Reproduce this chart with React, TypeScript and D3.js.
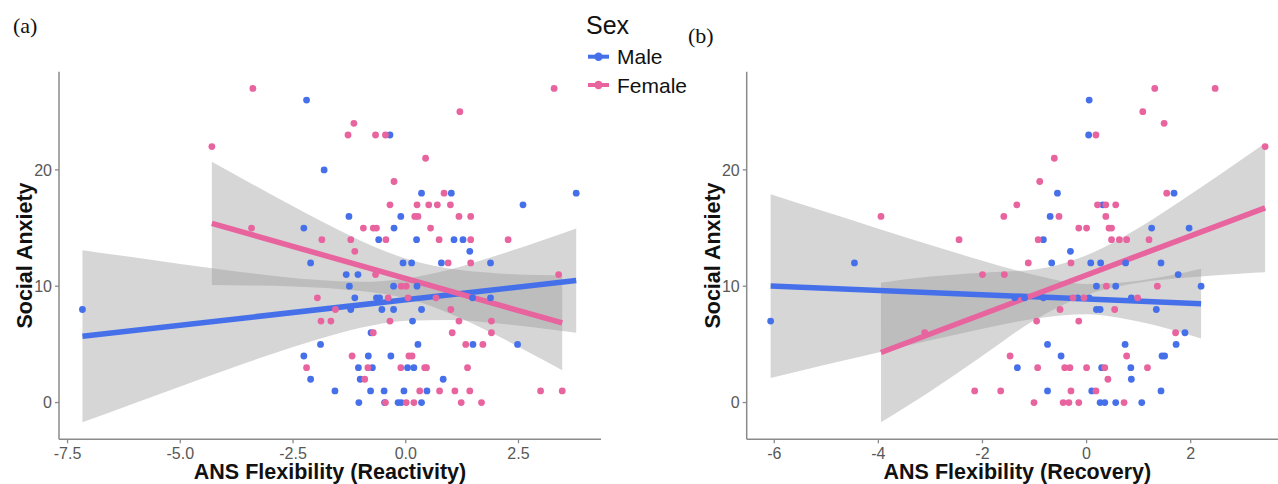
import * as React from "react";
import * as d3 from "d3";

// colours for the two groups (ggplot manual scale)
const SEX = ["Male", "Female"];
const SEX_COLOR = ["#4570ea", "#e8649e"];

const yTicks = [0, 10, 20];
const reactTicks = [-7.5, -5.0, -2.5, 0.0, 2.5];
const recovTicks = [-6, -4, -2, 0, 2];

// ---- panel (a) ANS Flexibility (Reactivity) ----
const maleReact: [number, number][] = [
  [-7.17, 8], [-2.2, 26], [-1.81, 20], [-1.26, 16], [-2.26, 15], [-0.6, 14], [-2.11, 12],
  [-1.32, 11], [-1.06, 11], [-1.25, 10], [-1.13, 9], [-0.65, 9], [-1.22, 8], [-0.77, 6],
  [-1.89, 5], [-2.26, 4], [-0.83, 4], [-1.05, 3], [-0.74, 3], [-2.11, 2], [-1.01, 2],
  [-1.57, 1], [-0.78, 1], [-1.04, 0], [-0.35, 23], [3.78, 18], [0.35, 18], [1.01, 18],
  [2.6, 17], [-0.11, 16], [-0.26, 15], [0.24, 14], [1.07, 14], [1.27, 14], [1.42, 13],
  [-0.06, 12], [0.13, 12], [0.79, 12], [1.88, 12], [-0.27, 10], [0.25, 10], [-0.58, 9],
  [1.48, 9], [1.88, 9], [-0.53, 8], [-0.27, 8], [0.35, 8], [0.15, 7], [0.27, 5], [1.49, 5],
  [2.48, 5], [-0.33, 4], [0.04, 3], [0.18, 3], [0.83, 2], [-0.48, 1], [-0.04, 1], [0.47, 1],
  [-0.47, 0], [-0.17, 0], [-0.1, 0], [0.35, 0],
];
const femaleReact: [number, number][] = [
  [-3.39, 27], [3.29, 27], [1.2, 25], [-1.15, 24], [-1.28, 23], [-0.67, 23], [-0.45, 23],
  [-4.3, 22], [0.44, 21], [-0.26, 19], [0.85, 18], [-0.35, 17], [0.25, 17], [0.51, 17],
  [0.7, 17], [0.99, 17], [0.2, 16], [0.27, 16], [1.18, 16], [1.44, 16], [-3.42, 15],
  [-0.94, 15], [-0.72, 15], [-0.65, 15], [0.55, 15], [-1.86, 14], [-1.22, 14], [-0.44, 14],
  [0.74, 14], [1.44, 14], [2.27, 14], [-1.13, 13], [0.94, 12], [1.44, 12], [-0.67, 11],
  [3.39, 11], [-0.1, 10], [0.01, 10], [-1.96, 9], [-0.39, 9], [0.05, 9], [0.67, 9],
  [-1.56, 8], [1.0, 8], [-1.88, 7], [-1.66, 7], [-0.35, 7], [1.18, 7], [1.9, 7], [-0.72, 6],
  [1.03, 6], [1.9, 6], [1.33, 5], [1.71, 5], [-1.19, 4], [0.07, 4], [0.14, 4], [-2.2, 3],
  [-0.84, 3], [-0.11, 3], [0.42, 3], [0.46, 3], [1.37, 3], [-0.91, 2], [0.31, 1], [0.75, 1],
  [1.09, 1], [1.42, 1], [2.99, 1], [3.47, 1], [-0.45, 0], [0.01, 0], [0.18, 0], [1.23, 0],
  [1.68, 0],
];
// fitted lines + 95% bands
const maleReactFit: [number, number][] = [[-7.17, 5.7], [3.78, 10.49]];
const maleReactBandX = [-7.17, -6, -5, -4, -3, -2, -1, 0, 1, 2, 3, 3.78];
const maleReactLo = [-1.7, -0.04, 1.38, 2.78, 4.13, 5.37, 6.42, 7.03, 7.1, 6.82, 6.39, 6.01];
const maleReactHi = [13.1, 12.46, 11.92, 11.4, 10.93, 10.55, 10.38, 10.65, 11.46, 12.62, 13.91, 14.97];
const femaleReactFit: [number, number][] = [[-4.3, 15.4], [3.47, 6.84]];
const femaleReactBandX = [-4.3, -3.5, -2.5, -1.5, -0.5, 0.2, 1, 2, 3, 3.47];
const femaleReactLo = [10.1, 10.06, 9.97, 9.77, 9.35, 8.74, 7.62, 5.8, 3.76, 2.77];
const femaleReactHi = [20.7, 18.98, 16.87, 14.85, 13.07, 12.14, 11.5, 11.12, 10.96, 10.91];

// ---- panel (b) ANS Flexibility (Recovery) ----
const maleRecov: [number, number][] = [
  [-6.07, 7], [-4.46, 12], [-1.33, 3], [0.05, 26], [0.04, 23], [-0.56, 18], [1.68, 18],
  [0.31, 17], [-0.7, 16], [1.25, 15], [1.97, 15], [-0.83, 14], [-0.31, 13], [-0.67, 12],
  [0.08, 12], [0.27, 12], [0.75, 12], [1.43, 12], [1.76, 11], [0.19, 10], [0.56, 10],
  [2.2, 10], [-1.38, 9], [-1.19, 9], [-0.83, 9], [-0.17, 9], [0.05, 9], [0.86, 9], [0.19, 8],
  [0.26, 8], [1.34, 8], [1.89, 6], [-0.75, 5], [0.74, 5], [1.72, 5], [-0.49, 4], [1.45, 4],
  [1.5, 4], [0.29, 3], [0.85, 3], [0.86, 2], [-0.75, 1], [0.1, 1], [1.43, 1], [0.26, 0],
  [0.35, 0], [0.56, 0], [1.06, 0],
];
const femaleRecov: [number, number][] = [
  [1.31, 27], [2.47, 27], [1.08, 25], [1.49, 24], [0.18, 23], [3.43, 22], [-0.62, 21],
  [-0.9, 19], [1.54, 18], [-1.34, 17], [0.21, 17], [0.37, 17], [0.56, 17], [-3.95, 16],
  [-1.59, 16], [-0.53, 16], [0.37, 16], [-0.15, 15], [0.0, 15], [0.43, 15], [0.48, 15],
  [-2.45, 14], [-0.93, 14], [0.48, 14], [0.63, 14], [0.77, 14], [1.2, 14], [-1.12, 12],
  [-0.3, 12], [-2.0, 11], [-1.58, 11], [0.38, 10], [1.36, 10], [-0.26, 9], [-0.05, 9],
  [0.98, 9], [-0.51, 8], [0.54, 8], [-0.96, 7], [-0.15, 7], [-3.11, 6], [1.71, 6], [-1.47, 4],
  [0.77, 4], [-0.94, 3], [-0.42, 3], [-0.32, 3], [0.0, 3], [0.35, 3], [1.17, 3], [0.41, 2],
  [-2.15, 1], [-1.65, 1], [-0.3, 1], [0.18, 1], [-1.01, 0], [-0.45, 0], [-0.34, 0],
  [-0.15, 0], [0.72, 0],
];
const maleRecovFit: [number, number][] = [[-6.07, 10.01], [2.2, 8.5]];
const maleRecovBandX = [-6.07, -5, -4, -3, -2, -1, 0, 1, 2.2];
const maleRecovLo = [2.12, 3.27, 4.31, 5.35, 6.35, 7.21, 7.6, 6.96, 5.5];
const maleRecovHi = [17.9, 16.37, 14.95, 13.55, 12.19, 10.97, 10.2, 10.48, 11.5];
const femaleRecovFit: [number, number][] = [[-3.95, 4.3], [3.43, 16.74]];
const femaleRecovBandX = [-3.95, -3, -2, -1, 0, 1, 2, 3, 3.43];
const femaleRecovLo = [-1.7, 0.97, 4.02, 7.1, 9.25, 10.29, 10.76, 11.09, 11.2];
const femaleRecovHi = [10.3, 10.83, 11.16, 11.44, 12.67, 15.01, 17.9, 20.95, 22.28];

const SANS = "'Liberation Sans', Arial, Helvetica, sans-serif";
const SERIF = "'Liberation Serif', 'Times New Roman', serif";
const AXIS_COL = "#8a8a8a";
const TICK_TXT = "#585858";

const top = 71.7, bottom = 439.3;
const yScale = d3.scaleLinear().domain([-3.16, 28.44]).range([bottom, top]);

function Panel({ x, ticks, fmt, xLabel, groups }) {
  const [x0, x1] = x.range();
  const line = d3.line<[number, number]>().x(d => x(d[0])).y(d => yScale(d[1]));
  const area = d3.area<number>()
    .curve(d3.curveMonotoneX);
  return (
    <g>
      {/* confidence bands */}
      {groups.map((g, gi) => {
        const a = area
          .x((_, i) => x(g.bandX[i]))
          .y0((_, i) => yScale(g.lo[i]))
          .y1((_, i) => yScale(g.hi[i]));
        return <path key={"r" + gi} d={a(g.bandX) || ""} fill="#999999" fillOpacity={0.4} />;
      })}
      {/* fitted lines */}
      {groups.map((g, gi) => (
        <path key={"l" + gi} d={line(g.fit) || ""} fill="none" stroke={SEX_COLOR[gi]} strokeWidth={5.5} />
      ))}
      {/* points */}
      {groups.map((g, gi) => (
        <g key={"p" + gi} fill={SEX_COLOR[gi]}>
          {g.points.map((p, i) => (
            <circle key={i} cx={x(p[0])} cy={yScale(p[1])} r={3.4} />
          ))}
        </g>
      ))}
      {/* axes */}
      <line x1={x0} x2={x0} y1={top} y2={bottom} stroke={AXIS_COL} strokeWidth={1.5} />
      <line x1={x0} x2={x1} y1={bottom} y2={bottom} stroke={AXIS_COL} strokeWidth={1.5} />
      {yTicks.map(t => (
        <g key={"y" + t}>
          <line x1={x0 - 4} x2={x0} y1={yScale(t)} y2={yScale(t)} stroke={AXIS_COL} strokeWidth={1.3} />
          <text x={x0 - 7} y={yScale(t)} dy="0.36em" textAnchor="end" fontSize={16} fill={TICK_TXT} fontFamily={SANS}>{t}</text>
        </g>
      ))}
      {ticks.map(t => (
        <g key={"x" + t}>
          <line x1={x(t)} x2={x(t)} y1={bottom} y2={bottom + 4} stroke={AXIS_COL} strokeWidth={1.3} />
          <text x={x(t)} y={458.5} textAnchor="middle" fontSize={16} fill={TICK_TXT} fontFamily={SANS}>{fmt(t)}</text>
        </g>
      ))}
      <text x={(x0 + Math.min(x1, 1288)) / 2} y={479} textAnchor="middle" fontSize={21.5} fontWeight="bold" fill="#111" fontFamily={SANS}>{xLabel}</text>
      <text transform={`translate(${x0 - 27},${(top + bottom) / 2}) rotate(-90)`} textAnchor="middle" fontSize={21.5} fontWeight="bold" fill="#111" fontFamily={SANS}>Social Anxiety</text>
    </g>
  );
}

export default function App() {
  const xA = d3.scaleLinear().domain([-7.69, 4.33]).range([59, 601]);
  const xB = d3.scaleLinear().domain([-6.53, 3.87]).range([746.7, 1288]);

  const groupsA = [
    { points: maleReact, fit: maleReactFit, bandX: maleReactBandX, lo: maleReactLo, hi: maleReactHi },
    { points: femaleReact, fit: femaleReactFit, bandX: femaleReactBandX, lo: femaleReactLo, hi: femaleReactHi },
  ];
  const groupsB = [
    { points: maleRecov, fit: maleRecovFit, bandX: maleRecovBandX, lo: maleRecovLo, hi: maleRecovHi },
    { points: femaleRecov, fit: femaleRecovFit, bandX: femaleRecovBandX, lo: femaleRecovLo, hi: femaleRecovHi },
  ];

  const legendY = [56.7, 85];

  return (
    <div style={{ position: "absolute", left: 0, top: 0 }}>
      <svg width={1278} height={484} style={{ display: "block", background: "#fff" }}>
        <Panel x={xA} ticks={reactTicks} fmt={t => t.toFixed(1)} xLabel="ANS Flexibility (Reactivity)" groups={groupsA} />
        <Panel x={xB} ticks={recovTicks} fmt={t => String(t)} xLabel="ANS Flexibility (Recovery)" groups={groupsB} />

        <text x={13} y={33} fontSize={22} fontFamily={SERIF} fill="#111">(a)</text>
        <text x={688} y={43} fontSize={22} fontFamily={SERIF} fill="#111">(b)</text>

        {/* legend */}
        <text x={586} y={34} fontSize={25} fontFamily={SANS} fill="#111">Sex</text>
        {SEX.map((s, i) => (
          <g key={s}>
            <line x1={588} x2={609} y1={legendY[i]} y2={legendY[i]} stroke={SEX_COLOR[i]} strokeWidth={4} />
            <circle cx={598.5} cy={legendY[i]} r={4.2} fill={SEX_COLOR[i]} />
            <text x={617} y={legendY[i]} dy="0.36em" fontSize={21} fontFamily={SANS} fill="#111">{s}</text>
          </g>
        ))}
      </svg>
    </div>
  );
}
